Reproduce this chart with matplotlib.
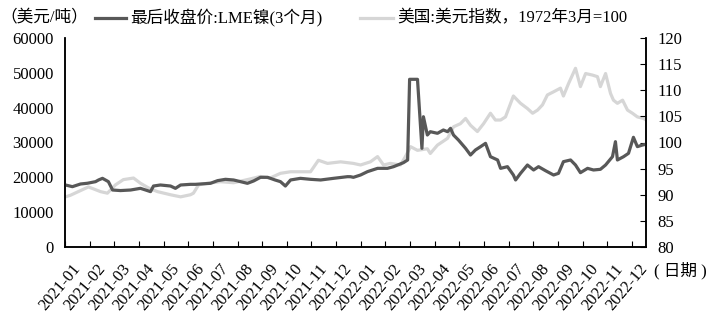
import matplotlib
matplotlib.use("Agg")
import matplotlib.pyplot as plt
import matplotlib.transforms as mtransforms
from matplotlib.lines import Line2D

plt.rcParams["font.family"] = ["Liberation Serif", "Noto Sans CJK SC"]
plt.rcParams["font.size"] = 12

# x positions are in "month slots" of the category axis (0 = start of 2021-01)
months = [
    "2021-01", "2021-02", "2021-03", "2021-04", "2021-05", "2021-06",
    "2021-07", "2021-08", "2021-09", "2021-10", "2021-11", "2021-12",
    "2022-01", "2022-02", "2022-03", "2022-04", "2022-05", "2022-06",
    "2022-07", "2022-08", "2022-09", "2022-10", "2022-11", "2022-12",
]

nickel_x = [
    0.02, 0.30, 0.63, 0.91, 1.24, 1.36, 1.52, 1.64, 1.76, 1.93, 2.25, 2.66,
    3.06, 3.27, 3.47, 3.59, 3.87, 4.28, 4.48, 4.69, 5.09, 5.29, 5.50, 5.90,
    6.19, 6.51, 6.84, 7.12, 7.40, 7.65, 7.93, 8.22, 8.52, 8.74, 8.94, 9.15,
    9.55, 9.96, 10.37, 10.89, 11.46, 11.58, 11.70, 11.99, 12.27, 12.68, 13.08,
    13.33, 13.73, 13.90, 13.98, 14.30, 14.48, 14.54, 14.70, 14.82, 15.11,
    15.35, 15.52, 15.64, 15.76, 15.96, 16.25, 16.45, 16.65, 16.86, 17.06,
    17.26, 17.55, 17.67, 17.95, 18.19, 18.28, 18.48, 18.76, 19.01, 19.21,
    19.49, 19.82, 20.02, 20.22, 20.51, 20.71, 20.91, 21.20, 21.44, 21.72,
    21.93, 22.21, 22.33, 22.41, 22.66, 22.86, 23.06, 23.22, 23.43, 23.57,
]
nickel = [
    17800, 17320, 18090, 18300, 18760, 19240, 19710, 19240, 18760, 16360, 16200, 16360,
    16840, 16360, 15890, 17510, 17800, 17510, 16840, 17800, 17990, 17990, 18090, 18280,
    19050, 19430, 19240, 18760, 18280, 18950, 20000, 20000, 19240, 18760, 17510, 19240,
    19710, 19430, 19240, 19710, 20190, 20180, 20000, 20670, 21630, 22580, 22580,
    23060, 24210, 24980, 48140, 48140, 28330, 37400, 32150, 33100, 32640,
    33590, 33100, 34070, 32150, 30720, 28330, 26410, 27850, 28810, 29760,
    25930, 24980, 22580, 23060, 20670, 19240, 21150, 23540, 22110, 23060,
    21920, 20670, 21150, 24500, 24980, 23540, 21340, 22580, 22110, 22300,
    23540, 25930, 30240, 24980, 25930, 26890, 31490, 28810, 29280, 29500,
]

dxy_x = [
    0.02, 0.22, 0.63, 0.95, 1.44, 1.72, 2.05, 2.37, 2.78, 3.06, 3.39, 3.75,
    4.28, 4.69, 5.09, 5.21, 5.42, 5.78, 6.31, 6.84, 7.40, 7.93, 8.32, 8.74,
    9.15, 9.96, 10.28, 10.65, 11.18, 11.70, 11.99, 12.39, 12.68, 12.92, 13.20,
    13.61, 13.81, 14.02, 14.30, 14.70, 14.82, 15.11, 15.52, 15.76, 16.04,
    16.25, 16.45, 16.73, 16.98, 17.26, 17.46, 17.67, 17.87, 18.19, 18.48,
    18.76, 18.97, 19.17, 19.37, 19.57, 19.82, 20.10, 20.22, 20.43, 20.71,
    20.91, 21.12, 21.40, 21.60, 21.72, 21.93, 22.13, 22.25, 22.41, 22.62,
    22.82, 23.02, 23.22, 23.47, 23.57,
]
dxy = [
    89.6, 89.9, 90.8, 91.5, 90.6, 90.3, 91.9, 92.9, 93.2, 92.2, 91.3, 90.6,
    90.0, 89.6, 90.0, 90.3, 91.9, 92.2, 92.5, 92.3, 92.9, 93.5, 93.2, 94.1,
    94.4, 94.4, 96.6, 96.0, 96.3, 96.0, 95.7, 96.3, 97.3, 95.7, 96.0,
    95.7, 97.3, 99.2, 98.5, 98.8, 97.9, 99.5, 100.8, 103.0, 103.6,
    104.6, 103.3, 102.1, 103.6, 105.6, 104.3, 104.3, 104.9, 108.9, 107.5,
    106.5, 105.6, 106.2, 107.2, 109.1, 109.7, 110.4, 108.9, 111.3, 114.2,
    110.7, 113.2, 112.9, 112.6, 110.7, 113.2, 109.4, 108.1, 107.5, 108.1,
    106.2, 105.6, 104.9, 104.6, 104.3,
]

DARK = "#585858"
LIGHT = "#d6d6d6"
LW = 2.3

fig = plt.figure(figsize=(7.08, 3.19), dpi=100)
ax = fig.add_axes([65 / 708, 1 - 247 / 319, 581 / 708, 209 / 319])
ax2 = ax.twinx()

ax2.plot(dxy_x, dxy, color=LIGHT, lw=LW, zorder=1)
ax.plot(nickel_x, nickel, color=DARK, lw=LW, zorder=2)
ax.set_zorder(ax2.get_zorder() + 1)
ax.patch.set_visible(False)

ax.set_xlim(0, 23.57)
ax.set_ylim(0, 60000)
ax.set_yticks(range(0, 60001, 10000))
ax2.set_ylim(80, 120)
ax2.set_yticks(range(80, 121, 5))

for a in (ax, ax2):
    a.spines["top"].set_visible(False)
    for s in a.spines.values():
        s.set_linewidth(1.1)
ax.tick_params(axis="y", length=0, pad=8)
ax2.tick_params(axis="y", direction="in", length=4, pad=8)

ax.set_xticks(range(len(months)))
ax.set_xticklabels(months, rotation=50, ha="right", va="top", rotation_mode="anchor")
ax.tick_params(axis="x", direction="in", length=4, pad=10)
offset = mtransforms.ScaledTranslation(7 / 100, 0, fig.dpi_scale_trans)
for lbl in ax.get_xticklabels():
    lbl.set_transform(lbl.get_transform() + offset)

fig.text(654 / 708, 1 - 271 / 319, "( 日期 )", ha="left", va="center", fontsize=12)
fig.text(0, 1 - 18 / 319, "（美元/吨）", ha="left", va="center", fontsize=12)
fig.add_artist(Line2D([95 / 708, 126 / 708], [1 - 18 / 319] * 2, color=DARK, lw=LW))
fig.text(130 / 708, 1 - 18 / 319, "最后收盘价:LME镍(3个月)", ha="left", va="center", fontsize=12)
fig.add_artist(Line2D([360 / 708, 393 / 708], [1 - 18 / 319] * 2, color=LIGHT, lw=LW))
fig.text(397 / 708, 1 - 18 / 319, "美国:美元指数，1972年3月=100", ha="left", va="center", fontsize=12)

fig.savefig("out.png", dpi=100)
